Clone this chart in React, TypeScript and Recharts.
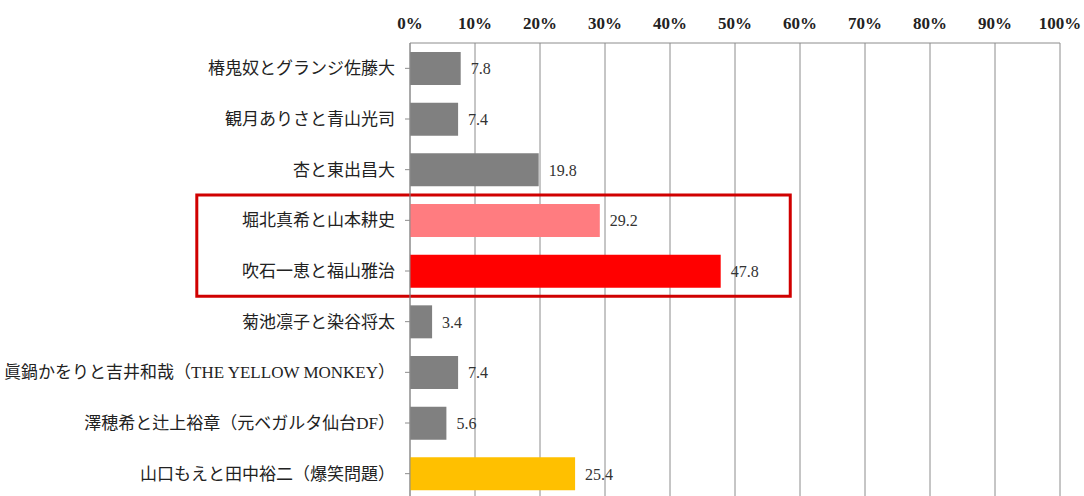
import React from 'react';
import { BarChart, Bar, XAxis, YAxis, CartesianGrid, Cell, LabelList, ReferenceArea } from 'recharts';

const categories = [
  '椿鬼奴とグランジ佐藤大',
  '観月ありさと青山光司',
  '杏と東出昌大',
  '堀北真希と山本耕史',
  '吹石一恵と福山雅治',
  '菊池凛子と染谷将太',
  '眞鍋かをりと吉井和哉（THE YELLOW MONKEY）',
  '澤穂希と辻上裕章（元ベガルタ仙台DF）',
  '山口もえと田中裕二（爆笑問題）',
];
const values = [7.8, 7.4, 19.8, 29.2, 47.8, 3.4, 7.4, 5.6, 25.4];
const colors = ['#808080', '#808080', '#808080', '#FF7C80', '#FF0000', '#808080', '#808080', '#808080', '#FFC000'];
const xTicks = [0, 10, 20, 30, 40, 50, 60, 70, 80, 90, 100];

const data = categories.map((name, i) => ({ name, value: values[i] }));

const serif = '"Liberation Serif", "DejaVu Serif", "Noto Sans CJK JP", serif';

export default function App() {
  return (
    <div style={{ position: 'absolute', left: 0, top: 0, width: 1084, height: 496, overflow: 'hidden', background: '#fff' }}>
      <BarChart
        width={1084}
        height={499}
        data={data}
        layout="vertical"
        margin={{ top: 0, right: 24, bottom: 0, left: 0 }}
      >
        <CartesianGrid horizontal={false} stroke="#8c8c8c" />
        <XAxis
          type="number"
          orientation="top"
          domain={[0, 100]}
          ticks={xTicks}
          tickFormatter={(v: number) => `${v}%`}
          height={43}
          tickLine={false}
          axisLine={{ stroke: '#8c8c8c' }}
          tickSize={6}
          tickMargin={8}
          tick={{ fill: '#222', fontSize: 17, fontFamily: serif, fontWeight: 'bold' }}
          interval={0}
        />
        <YAxis
          type="category"
          dataKey="name"
          width={410}
          tickSize={5}
          tickMargin={10}
          axisLine={{ stroke: '#8c8c8c' }}
          tickLine={{ stroke: '#8c8c8c' }}
          tick={{ fill: '#222', fontSize: 17, fontFamily: serif }}
          interval={0}
        />
        <Bar dataKey="value" barSize={33} isAnimationActive={false}>
          {data.map((d, i) => (
            <Cell key={d.name} fill={colors[i]} />
          ))}
          <LabelList
            dataKey="value"
            position="right"
            offset={10}
            formatter={(v: number) => v.toFixed(1)}
            style={{ fill: '#333', fontSize: 16, fontFamily: serif }}
          />
        </Bar>
        <ReferenceArea
          y1={categories[3]}
          y2={categories[4]}
          x1={-32.8}
          x2={58.5}
          ifOverflow="visible"
          fill="none"
          fillOpacity={0}
          stroke="#D00000"
          strokeWidth={3}
        />
      </BarChart>
    </div>
  );
}
